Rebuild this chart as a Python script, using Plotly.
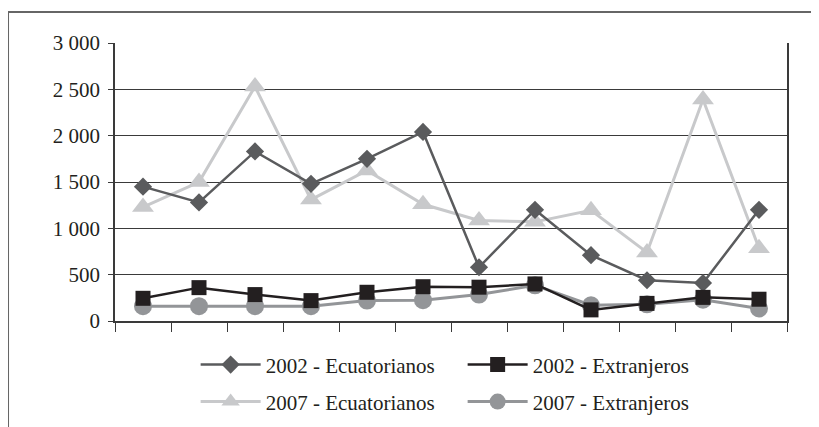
import plotly.graph_objects as go

categories = ["1", "2", "3", "4", "5", "6", "7", "8", "9", "10", "11", "12"]
ecuatorianos_2002 = [1450, 1280, 1830, 1480, 1750, 2040, 580, 1200, 710, 440, 410, 1200]
extranjeros_2002 = [245, 360, 285, 220, 310, 370, 365, 400, 120, 190, 255, 235]
ecuatorianos_2007 = [1230, 1500, 2530, 1310, 1625, 1260, 1085, 1070, 1195, 740, 2390, 785]
extranjeros_2007 = [160, 160, 160, 160, 220, 225, 285, 385, 170, 180, 230, 135]
y_ticks = [0, 500, 1000, 1500, 2000, 2500, 3000]

FONT = "Liberation Serif"
TXT = "#231f20"

fig = go.Figure()

fig.add_trace(go.Scatter(
    x=categories, y=ecuatorianos_2007, name="2007 - Ecuatorianos", mode="lines+markers",
    line=dict(color="#c8c9cb", width=3),
    marker=dict(symbol="triangle-up", size=19, color="#c8c9cb", line=dict(width=0)),
    legend="legend2"))
fig.add_trace(go.Scatter(
    x=categories, y=extranjeros_2007, name="2007 - Extranjeros", mode="lines+markers",
    line=dict(color="#939598", width=3),
    marker=dict(symbol="circle", size=18, color="#939598", line=dict(width=0)),
    legend="legend2"))
fig.add_trace(go.Scatter(
    x=categories, y=ecuatorianos_2002, name="2002 - Ecuatorianos", mode="lines+markers",
    line=dict(color="#5a5b5d", width=2.5),
    marker=dict(symbol="diamond", size=14, color="#5a5b5d", line=dict(width=0)),
    legend="legend"))
fig.add_trace(go.Scatter(
    x=categories, y=extranjeros_2002, name="2002 - Extranjeros", mode="lines+markers",
    line=dict(color="#231f20", width=2.5),
    marker=dict(symbol="square", size=15, color="#231f20", line=dict(width=0)),
    legend="legend"))

legend_common = dict(
    orientation="h", xanchor="left", yanchor="middle",
    font=dict(family=FONT, size=21, color=TXT),
    itemwidth=60, entrywidth=192, bgcolor="rgba(0,0,0,0)", borderwidth=0,
)

fig.update_layout(
    width=819, height=427,
    margin=dict(l=107, r=40, t=35, b=114, autoexpand=False),
    paper_bgcolor="white", plot_bgcolor="white",
    font=dict(family=FONT, size=21, color=TXT),
    separators=", ",
    showlegend=True,
    legend=dict(x=0.12, y=-0.158, **legend_common),
    legend2=dict(x=0.12, y=-0.291, **legend_common),
    xaxis=dict(
        type="category", showticklabels=False, showgrid=False,
        showline=True, linecolor="#3a3a3a", linewidth=1.5,
        ticks="outside", tickson="boundaries", ticklen=9, tickcolor="#3a3a3a", tickwidth=1,
        range=[-0.5, 11.5], zeroline=False, automargin=False,
    ),
    yaxis=dict(
        range=[0, 3000], tickvals=y_ticks, tickformat=",",
        showgrid=True, gridcolor="#3a3a3a", gridwidth=1,
        showline=True, linecolor="#3a3a3a", linewidth=1.5, mirror=True,
        ticks="outside", ticklen=5, tickcolor="#3a3a3a", tickwidth=1,
        ticklabelstandoff=4, zeroline=False, automargin=False,
        tickfont=dict(family=FONT, size=21, color=TXT),
    ),
    shapes=[
        dict(type="line", xref="paper", yref="paper", x0=-0.1592, x1=-0.1592, y0=1.1115, y1=-0.45,
             line=dict(color="#666666", width=2)),
        dict(type="line", xref="paper", yref="paper", x0=-0.1592, x1=1.08, y0=1.1115, y1=1.1115,
             line=dict(color="#666666", width=2)),
    ],
)

fig.write_html("out.html")
